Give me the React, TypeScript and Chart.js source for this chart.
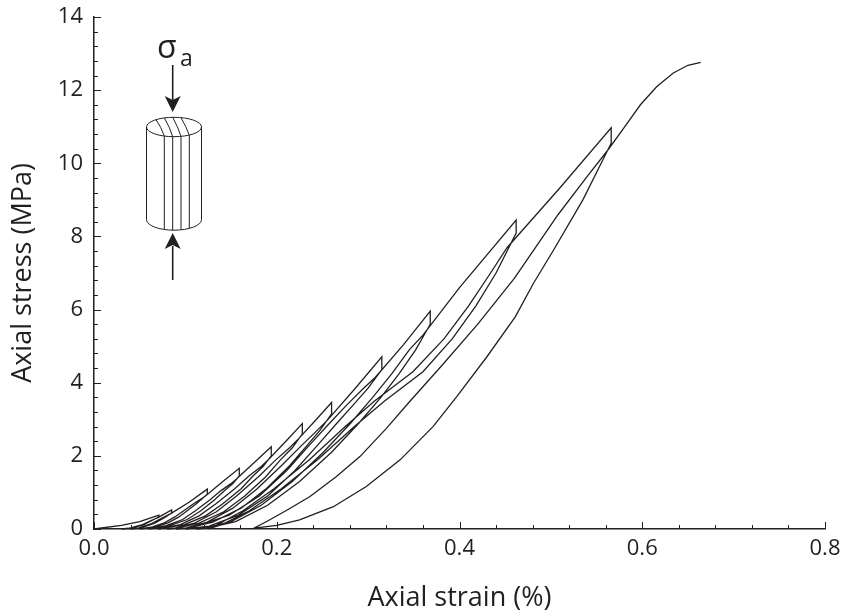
import React, { useEffect, useRef } from 'react';
import { Chart, registerables } from 'chart.js';

Chart.register(...registerables);

const INK = '#231f20';
const FONT = "'Open Sans', 'Noto Sans', sans-serif";

// axis tick values
const xMajorTicks = [0, 0.2, 0.4, 0.6, 0.8];
const xMinorTicks = [0.04, 0.08, 0.12, 0.16, 0.24, 0.28, 0.32, 0.36, 0.44, 0.48, 0.52, 0.56, 0.64, 0.68, 0.72, 0.76];
const yMajorTicks = [0, 2, 4, 6, 8, 10, 12, 14];
const yMinorTicks = [0.4, 0.8, 1.2, 1.6, 2.4, 2.8, 3.2, 3.6, 4.4, 4.8, 5.2, 5.6, 6.4, 6.8, 7.2, 7.6, 8.4, 8.8, 9.2, 9.6, 10.4, 10.8, 11.2, 11.6, 12.4, 12.8, 13.2, 13.6];

// [axial strain (%), axial stress (MPa)] — loading / unloading branches in test order
const load00 = [[0, 0], [0.03, 0.1], [0.05, 0.2], [0.071, 0.38]];
const unload01 = [[0.071, 0.33], [0.064, 0.24], [0.054, 0.11], [0.04, 0.02], [0.03, 0]];
const reload01 = [[0.038, 0.02], [0.052, 0.11], [0.063, 0.24], [0.07, 0.31], [0.085, 0.52]];
const unload02 = [[0.085, 0.44], [0.078, 0.32], [0.066, 0.15], [0.051, 0.03], [0.04, 0]];
const reload02 = [[0.049, 0.03], [0.063, 0.15], [0.076, 0.32], [0.084, 0.42], [0.104, 0.73], [0.124, 1.09]];
const unload03 = [[0.124, 0.95], [0.112, 0.69], [0.093, 0.33], [0.081, 0.17], [0.067, 0.06], [0.05, 0]];
const reload03 = [[0.064, 0.06], [0.077, 0.17], [0.0885, 0.33], [0.109, 0.69], [0.122, 0.9], [0.141, 1.3], [0.159, 1.66]];
const unload04 = [[0.159, 1.45], [0.152, 1.24], [0.143, 1.05], [0.132, 0.8], [0.117, 0.5], [0.102, 0.26], [0.083, 0.09], [0.06, 0]];
const reload04 = [[0.079, 0.09], [0.097, 0.26], [0.111, 0.5], [0.127, 0.8], [0.139, 1.05], [0.15, 1.24], [0.1565, 1.38], [0.176, 1.83], [0.194, 2.25]];
const unload05 = [[0.194, 2.0], [0.185, 1.71], [0.174, 1.45], [0.161, 1.1], [0.141, 0.69], [0.122, 0.36], [0.099, 0.12], [0.07, 0]];
const reload05 = [[0.0945, 0.12], [0.115, 0.36], [0.1335, 0.69], [0.154, 1.1], [0.1695, 1.45], [0.183, 1.71], [0.191, 1.9], [0.21, 2.4], [0.228, 2.88]];
const unload06 = [[0.228, 2.6], [0.217, 2.22], [0.204, 1.89], [0.188, 1.43], [0.165, 0.9], [0.142, 0.47], [0.115, 0.16], [0.092, 0.03], [0.08, 0]];
const reload06 = [[0.089, 0.03], [0.11, 0.16], [0.134, 0.47], [0.156, 0.9], [0.18, 1.43], [0.199, 1.89], [0.214, 2.22], [0.224, 2.47], [0.242, 2.96], [0.26, 3.46]];
const unload07 = [[0.26, 3.15], [0.247, 2.69], [0.233, 2.28], [0.214, 1.73], [0.188, 1.09], [0.161, 0.57], [0.13, 0.19], [0.104, 0.03], [0.09, 0]];
const reload07 = [[0.101, 0.03], [0.124, 0.19], [0.152, 0.57], [0.178, 1.09], [0.205, 1.73], [0.227, 2.28], [0.244, 2.69], [0.256, 2.99], [0.286, 3.85], [0.315, 4.71]];
const unload08 = [[0.315, 4.36], [0.3, 3.85], [0.284, 3.4], [0.266, 2.9], [0.245, 2.3], [0.22, 1.6], [0.19, 0.9], [0.158, 0.38], [0.126, 0.08], [0.1, 0]];
const reload08 = [[0.112, 0.08], [0.148, 0.38], [0.181, 0.9], [0.211, 1.6], [0.236, 2.3], [0.258, 2.9], [0.277, 3.4], [0.295, 3.85], [0.308, 4.15], [0.339, 5.05], [0.368, 5.96]];
const unload09 = [[0.368, 5.6], [0.352, 4.9], [0.334, 4.25], [0.314, 3.6], [0.29, 2.9], [0.26, 2.1], [0.225, 1.3], [0.19, 0.65], [0.155, 0.2], [0.125, 0.03], [0.112, 0]];
const reload09 = [[0.122, 0.03], [0.15, 0.2], [0.183, 0.65], [0.217, 1.3], [0.251, 2.1], [0.281, 2.9], [0.305, 3.6], [0.326, 4.25], [0.345, 4.9], [0.36, 5.3], [0.4, 6.6], [0.462, 8.45]];
const unload10 = [[0.462, 8.09], [0.44, 7.0], [0.418, 6.1], [0.392, 5.2], [0.36, 4.3], [0.318, 3.5], [0.285, 2.8], [0.245, 1.9], [0.205, 1.1], [0.17, 0.5], [0.14, 0.12], [0.125, 0]];
const reload10 = [[0.135, 0.12], [0.163, 0.5], [0.197, 1.1], [0.236, 1.9], [0.275, 2.8], [0.307, 3.5], [0.349, 4.3], [0.383, 5.2], [0.41, 6.1], [0.434, 7.0], [0.452, 7.69], [0.51, 9.33], [0.566, 10.97]];
const unload11 = [[0.566, 10.55], [0.535, 9.0], [0.503, 7.63], [0.481, 6.72], [0.461, 5.8], [0.43, 4.71], [0.397, 3.62], [0.371, 2.8], [0.335, 1.89], [0.298, 1.16], [0.262, 0.61], [0.225, 0.25], [0.2, 0.1], [0.175, 0.02]];
const finalLoad = [[0.19, 0.22], [0.21, 0.5], [0.236, 0.88], [0.265, 1.43], [0.291, 1.98], [0.32, 2.75], [0.346, 3.5], [0.38, 4.45], [0.42, 5.6], [0.46, 6.85], [0.508, 8.6], [0.54, 9.65], [0.562, 10.35], [0.578, 10.9], [0.598, 11.6], [0.616, 12.1], [0.634, 12.47], [0.65, 12.68], [0.664, 12.76]];

const branches = [
  load00, unload01, reload01, unload02, reload02, unload03, reload03, unload04, reload04,
  unload05, reload05, unload06, reload06, unload07, reload07, unload08, reload08,
  unload09, reload09, unload10, reload10, unload11, finalLoad,
];

const inwardTicksAndInset = {
  id: 'inwardTicksAndInset',
  afterDraw(chart: any) {
    const { ctx, chartArea, scales } = chart;
    const xs = scales.x;
    const ys = scales.y;
    ctx.save();
    ctx.strokeStyle = INK;
    ctx.fillStyle = INK;
    ctx.lineWidth = 1;
    const seg = (x1: number, y1: number, x2: number, y2: number) => {
      ctx.beginPath();
      ctx.moveTo(x1, y1);
      ctx.lineTo(x2, y2);
      ctx.stroke();
    };
    xMajorTicks.forEach((v) => {
      const px = Math.round(xs.getPixelForValue(v)) + 0.5;
      seg(px, chartArea.bottom, px, chartArea.bottom - 7);
    });
    xMinorTicks.forEach((v) => {
      const px = Math.round(xs.getPixelForValue(v)) + 0.5;
      seg(px, chartArea.bottom, px, chartArea.bottom - 4);
    });
    yMajorTicks.forEach((v) => {
      const py = Math.round(ys.getPixelForValue(v)) + 0.5;
      seg(chartArea.left, py, chartArea.left + 7, py);
    });
    yMinorTicks.forEach((v) => {
      const py = Math.round(ys.getPixelForValue(v)) + 0.5;
      seg(chartArea.left, py, chartArea.left + 4, py);
    });

    // ---- inset: loaded cylinder sketch ----
    const cx = 174;
    const rx = 27.5;
    const ry = 9.7;
    const topY = 127;
    const botY = 219.5;
    ctx.lineWidth = 1;
    ctx.beginPath();
    ctx.ellipse(cx, topY, rx, ry, 0, 0, Math.PI * 2);
    ctx.stroke();
    seg(cx - rx, topY, cx - rx, botY);
    seg(cx + rx, topY, cx + rx, botY);
    ctx.beginPath();
    ctx.ellipse(cx, botY, rx, ry + 1, 0, 0, Math.PI);
    ctx.stroke();
    const stripes = [164.3, 172.7, 181, 189.3];
    stripes.forEach((sx) => {
      const k = Math.sqrt(Math.max(0, 1 - ((sx - cx) / rx) ** 2));
      const bx = sx - 8.3;
      const kb = Math.sqrt(Math.max(0, 1 - ((bx - cx) / rx) ** 2));
      ctx.beginPath();
      ctx.moveTo(bx, topY - ry * kb);
      ctx.quadraticCurveTo(sx - 3, topY, sx, topY + ry * k);
      ctx.stroke();
      seg(sx, topY + ry * k, sx, botY + (ry + 1) * k);
    });
    const ax = 172.7;
    const arrowHead = (tipY: number, dir: number) => {
      ctx.beginPath();
      ctx.moveTo(ax, tipY);
      ctx.lineTo(ax - 8, tipY - dir * 16);
      ctx.lineTo(ax, tipY - dir * 12);
      ctx.lineTo(ax + 8, tipY - dir * 16);
      ctx.closePath();
      ctx.fill();
    };
    ctx.lineWidth = 1.6;
    seg(ax, 65, ax, 100);
    arrowHead(112, 1);
    seg(ax, 246, ax, 280);
    arrowHead(233, -1);
    ctx.textBaseline = 'alphabetic';
    ctx.textAlign = 'left';
    ctx.font = `32px ${FONT}`;
    ctx.fillText('σ', 157, 58);
    ctx.font = `23px ${FONT}`;
    ctx.fillText('a', 180, 66);
    ctx.restore();
  },
};

export default function App() {
  const ref = useRef<HTMLCanvasElement>(null);
  useEffect(() => {
    const canvas = ref.current;
    if (!canvas) return;
    const path = branches.flat().map(([x, y]) => ({ x, y }));
    const chart = new Chart(canvas, {
      type: 'scatter',
      data: {
        datasets: [
          {
            data: path,
            showLine: true,
            borderColor: INK,
            borderWidth: 1.3,
            pointRadius: 0,
            tension: 0,
            clip: false as any,
          },
        ],
      },
      options: {
        animation: false,
        responsive: false,
        maintainAspectRatio: false,
        devicePixelRatio: 1,
        layout: { padding: { left: 0, right: 19, top: 17, bottom: 0 } },
        plugins: { legend: { display: false }, tooltip: { enabled: false } },
        scales: {
          x: {
            type: 'linear',
            position: 'bottom',
            min: 0,
            max: 0.8,
            afterBuildTicks: (s: any) => {
              s.ticks = xMajorTicks.map((v) => ({ value: v }));
            },
            afterFit: (s: any) => {
              s.height = 84;
              s.paddingLeft = 0;
              s.paddingRight = 0;
              s.paddingTop = 0;
              s.paddingBottom = 0;
            },
            grid: { display: false, drawTicks: false },
            border: { display: true, color: INK, width: 1.5 },
            ticks: {
              color: INK,
              font: { family: FONT, size: 22 },
              padding: 7,
              maxRotation: 0,
              autoSkip: false,
              callback: (v: any) => Number(v).toFixed(1),
            },
            title: {
              display: true,
              text: 'Axial strain (%)',
              color: INK,
              font: { family: FONT, size: 27 },
              padding: { top: 0, bottom: -2 },
            },
          },
          y: {
            type: 'linear',
            min: 0,
            max: 14,
            afterBuildTicks: (s: any) => {
              s.ticks = yMajorTicks.map((v) => ({ value: v }));
            },
            afterFit: (s: any) => {
              s.width = 94;
              s.paddingLeft = 0;
              s.paddingRight = 0;
              s.paddingTop = 0;
              s.paddingBottom = 0;
            },
            grid: { display: false, drawTicks: false },
            border: { display: true, color: INK, width: 1.5 },
            ticks: {
              color: INK,
              font: { family: FONT, size: 22 },
              padding: 11,
              autoSkip: false,
              callback: (v: any) => String(v),
            },
            title: {
              display: true,
              text: 'Axial stress (MPa)',
              color: INK,
              font: { family: FONT, size: 27 },
              padding: { top: 7, bottom: 0 },
            },
          },
        },
      },
      plugins: [inwardTicksAndInset],
    });
    return () => chart.destroy();
  }, []);
  return (
    <div style={{ position: 'absolute', left: 0, top: 0, width: 844, height: 613, background: '#fff' }}>
      <canvas ref={ref} width={844} height={613} style={{ width: 844, height: 613, display: 'block' }} />
    </div>
  );
}
